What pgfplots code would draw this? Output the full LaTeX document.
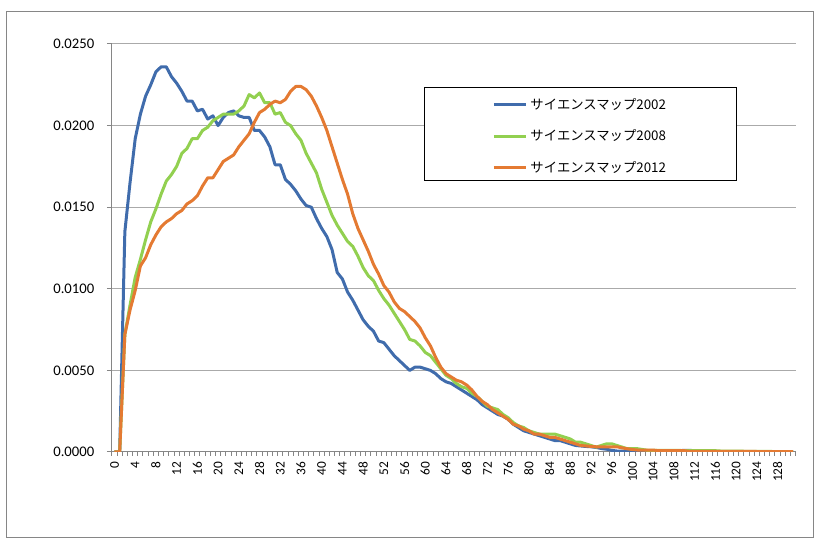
\documentclass[border=0pt]{standalone}
\usepackage{fontspec}
\setmainfont{Carlito}
\newfontfamily\jfont{Noto Sans CJK JP}
\usepackage{pgfplots}
\usepackage{pgfplotstable}
\pgfplotsset{compat=1.18}

\definecolor{map02}{RGB}{64,108,172}
\definecolor{map08}{RGB}{146,208,80}
\definecolor{map12}{RGB}{228,122,50}
\definecolor{axgray}{RGB}{134,134,134}
\definecolor{gridgray}{RGB}{170,170,170}

% k = category, a = 2002, b = 2008, c = 2012
\pgfplotstableread{
k a b c
0 0 0 0
1 0 0 0
2 0.0135 0.0072 0.0072
3 0.0165 0.0090 0.0087
4 0.0192 0.0107 0.0099
5 0.0207 0.0118 0.0114
6 0.0218 0.0130 0.0119
7 0.0225 0.0141 0.0127
8 0.0233 0.0149 0.0133
9 0.0236 0.0158 0.0138
10 0.0236 0.0166 0.0141
11 0.0230 0.0170 0.0143
12 0.0226 0.0175 0.0146
13 0.0221 0.0183 0.0148
14 0.0215 0.0186 0.0152
15 0.0215 0.0192 0.0154
16 0.0209 0.0192 0.0157
17 0.0210 0.0197 0.0163
18 0.0204 0.0199 0.0168
19 0.0206 0.0203 0.0168
20 0.0200 0.0205 0.0173
21 0.0205 0.0207 0.0178
22 0.0208 0.0207 0.0180
23 0.0209 0.0207 0.0182
24 0.0206 0.0209 0.0187
25 0.0205 0.0212 0.0191
26 0.0205 0.0219 0.0195
27 0.0197 0.0217 0.0202
28 0.0197 0.0220 0.0208
29 0.0193 0.0214 0.0210
30 0.0187 0.0214 0.0213
31 0.0176 0.0207 0.0215
32 0.0176 0.0208 0.0214
33 0.0167 0.0202 0.0216
34 0.0164 0.0200 0.0221
35 0.0160 0.0195 0.0224
36 0.0155 0.0191 0.0224
37 0.0151 0.0183 0.0222
38 0.0150 0.0177 0.0218
39 0.0143 0.0171 0.0212
40 0.0137 0.0161 0.0205
41 0.0132 0.0153 0.0197
42 0.0124 0.0145 0.0187
43 0.0110 0.0139 0.0177
44 0.0106 0.0134 0.0167
45 0.0098 0.0129 0.0158
46 0.0093 0.0126 0.0146
47 0.0087 0.0120 0.0137
48 0.0081 0.0113 0.0130
49 0.0077 0.0108 0.0123
50 0.0074 0.0105 0.0115
51 0.0068 0.0099 0.0109
52 0.0067 0.0094 0.0102
53 0.0063 0.0090 0.0098
54 0.0059 0.0085 0.0092
55 0.0056 0.0080 0.0088
56 0.0053 0.0075 0.0086
57 0.0050 0.0069 0.0083
58 0.0052 0.0068 0.0080
59 0.0052 0.0065 0.0076
60 0.0051 0.0061 0.0070
61 0.0050 0.0059 0.0065
62 0.0048 0.0055 0.0058
63 0.0045 0.0051 0.0052
64 0.0043 0.0047 0.0048
65 0.0042 0.0045 0.0046
66 0.0040 0.0042 0.0044
67 0.0038 0.0040 0.0043
68 0.0036 0.0039 0.0041
69 0.0034 0.0036 0.0038
70 0.0032 0.0034 0.0034
71 0.0029 0.0031 0.0031
72 0.0027 0.0028 0.0029
73 0.0025 0.0027 0.0026
74 0.0023 0.0026 0.0024
75 0.0022 0.0023 0.0022
76 0.0020 0.0021 0.0020
77 0.0017 0.0018 0.0017
78 0.0015 0.0016 0.0016
79 0.0013 0.0015 0.0014
80 0.0012 0.0013 0.0013
81 0.0011 0.0012 0.0011
82 0.0010 0.0011 0.0011
83 0.0009 0.0011 0.0010
84 0.0008 0.0011 0.0009
85 0.0007 0.0011 0.0009
86 0.0007 0.0010 0.0008
87 0.0006 0.0009 0.0007
88 0.0005 0.0008 0.0006
89 0.0004 0.0006 0.0005
90 0.00037 0.0006 0.0004
91 0.00034 0.0005 0.00037
92 0.00032 0.0004 0.00034
93 0.00028 0.0003 0.00032
94 0.00021 0.0004 0.00032
95 0.00017 0.0005 0.00032
96 0.00010 0.0005 0.00032
97 0.00006 0.0004 0.00032
98 0.00005 0.0003 0.00025
99 0.00005 0.0002 0.00020
100 0.00005 0.0002 0.00015
101 0.00005 0.0002 0.00012
102 0.00005 0.00015 0.00012
103 0.00005 0.00010 0.00012
104 0.00005 0.00010 0.00012
105 0.00005 0.00010 0.00008
106 0.00005 0.00010 0.00008
107 0.00005 0.00010 0.00008
108 0.00005 0.00010 0.00008
109 0.00008 0.00010 0.00008
110 0.00010 0.00008 0.00008
111 0.00010 0.00008 0.00004
112 0.00008 0.00008 0.00004
113 0.00005 0.00008 0.00004
114 0.00005 0.00008 0.00004
115 0.00005 0.00008 0.00004
116 0.00003 0.00008 0.00004
117 0.00003 0.00006 0.00004
118 0.00003 0.00006 0.00004
119 0.00003 0.00005 0.00004
120 0.00003 0.00005 0.00004
121 0.00003 0.00005 0.00004
122 0.00003 0.00004 0.00004
123 0.00003 0.00004 0.00004
124 0.00003 0.00004 0.00003
125 0.00003 0.00004 0.00003
126 0.00003 0.00004 0.00003
127 0.00003 0.00003 0.00003
128 0.00003 0.00003 0.00003
129 0.00003 0.00003 0.00003
130 0.00003 0.00003 0.00003
131 0.00003 0.00003 0.00003
}\mapdata

\begin{document}
\begin{tikzpicture}
% page frame and chart border
\useasboundingbox (-83.93pt,-68.25pt) rectangle (531.83pt,339pt);
\draw[draw=axgray, line width=0.75pt] (-78.68pt,-64.13pt) rectangle (526.2pt,330.38pt);
\begin{axis}[
  at={(0,0)}, anchor=south west,
  scale only axis, width=512.8pt, height=306pt,
  xmin=-0.5, xmax=131.5, ymin=0, ymax=0.025,
  axis x line*=bottom, axis y line*=left,
  axis line style={-, draw=axgray, line width=0.75pt},
  ymajorgrids, grid style={draw=gridgray, line width=0.75pt},
  tick align=outside,
  major tick length=3.75pt, minor tick length=3pt,
  tick style={draw=axgray, line width=0.75pt},
  major x tick style={draw=none},
  xtick={0,4,...,128},
  minor xtick={-0.5,0.5,...,131.5},
  ytick={0,0.005,0.01,0.015,0.02,0.025},
  scaled y ticks=false,
  /pgf/number format/assume math mode=true,
  tick label style={font=\fontsize{10}{12}\selectfont, text=black},
  yticklabel style={font=\fontsize{11}{13}\selectfont, xshift=-6pt,
    /pgf/number format/fixed, /pgf/number format/fixed zerofill,
    /pgf/number format/precision=4},
  xticklabel style={rotate=90, anchor=east},
  legend style={at={(0.6854,0.7735)}, anchor=center, draw=none, fill=none,
    font=\jfont\fontsize{10}{12}\selectfont, row sep=9.8pt},
  legend cell align=left,
  legend image code/.code={\draw[#1, line width=2.25pt] (0pt,0pt) -- (24.3pt,0pt);},
  every axis plot/.append style={line width=2.25pt, line join=round, mark=none},
]
\addplot[map02] table[x=k, y=a] {\mapdata};
\addlegendentry{サイエンスマップ2002}
\addplot[map08] table[x=k, y=b] {\mapdata};
\addlegendentry{サイエンスマップ2008}
\addplot[map12] table[x=k, y=c] {\mapdata};
\addlegendentry{サイエンスマップ2012}
% legend frame
\draw[black, line width=0.75pt, fill=white] (rel axis cs:0.4579,0.8938) rectangle (rel axis cs:0.9128,0.6650);
\end{axis}
\end{tikzpicture}
\end{document}
